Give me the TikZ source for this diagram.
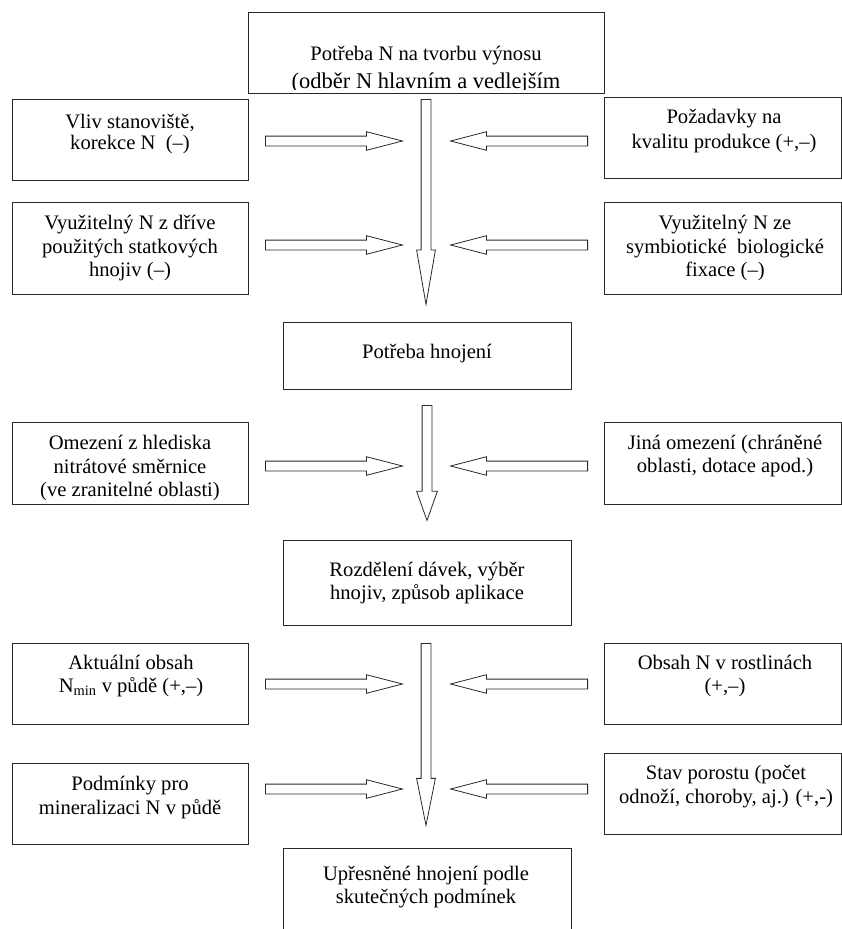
\documentclass[tikz,border=0pt]{standalone}
\usepackage{fontspec}
\setmainfont{Liberation Serif}
\usetikzlibrary{shapes.arrows}
\definecolor{fnLine}{RGB}{40,40,40}

\begin{document}
\begin{tikzpicture}[
  x=1pt, y=-1pt,
  font=\fontsize{20.6}{23.5}\selectfont,
  box/.style={draw=fnLine, line width=1pt, minimum width=236pt, minimum height=81pt, inner sep=0pt},
  mid/.style={box, minimum width=288pt},
  txt/.style={align=center, inner sep=0pt},
  blk/.style={single arrow, draw=fnLine, line width=0.8pt, inner sep=4.5pt, single arrow head extend=4.4pt, single arrow tip angle=29, minimum height=137pt, anchor=tail},
  dwn/.style={blk, shape border rotate=270, single arrow head extend=4.5pt}
]
\useasboundingbox (0,0) rectangle (842,929);

% boxes
\node[box, minimum width=356pt] (top) at (426,52.5) {};
\node[box] (l1) at (130,139.5) {};
\node[box, minimum width=237pt] (r1) at (722.5,137.5) {};
\node[box, minimum height=92pt] (l2) at (130,248) {};
\node[box, minimum width=237pt, minimum height=92pt] (r2) at (722.5,248) {};
\node[mid, minimum height=67pt] (m1) at (427,355.5) {};
\node[box, minimum height=82pt] (l3) at (130,463) {};
\node[box, minimum width=237pt, minimum height=82pt] (r3) at (722.5,463) {};
\node[mid, minimum height=85pt] (m2) at (427,582.5) {};
\node[box] (l4) at (130,683.5) {};
\node[box, minimum width=237pt] (r4) at (722.5,683.5) {};
\node[box] (l5) at (130,803.5) {};
\node[box, minimum width=237pt] (r5) at (722.5,793.5) {};
\node[mid, minimum height=112pt] (bot) at (427,904) {};

% texts
\begin{scope}
  \clip (top.north west) rectangle ([yshift=4pt]top.south east);
  \node[txt] (topt) at (426,70) {Potřeba N na tvorbu výnosu\\[4.5pt]{\fontsize{22.5}{27}\selectfont(odběr N hlavním a vedlejším}};
\end{scope}
\node[txt] (l1t) at (130,134) {Vliv stanoviště,\\[-3pt]korekce N\ \ (–)};
\node[txt] (r1t) at (724,131) {Požadavky na\\[2pt]kvalitu produkce (+,–)};
\node[txt] (l2t) at (130,248.5) {Využitelný N z dříve\\použitých statkových\\hnojiv (–)};
\node[txt] (r2t) at (725,248.5) {Využitelný N ze\\symbiotické\ \ biologické\\fixace (–)};
\node[txt] (m1t) at (427,354) {Potřeba hnojení};
\node[txt] (l3t) at (130,468.5) {Omezení z hlediska\\nitrátové směrnice\\(ve zranitelné oblasti)};
\node[txt] (r3t) at (725,456) {Jiná omezení (chráněné\\oblasti, dotace apod.)};
\node[txt] (m2t) at (427,583) {Rozdělení dávek, výběr\\hnojiv, způsob aplikace};
\node[txt] (l4t) at (131,676) {Aktuální obsah\\N\textsubscript{min} v půdě (+,–)};
\node[txt] (r4t) at (725,676) {Obsah N v rostlinách\\(+,–)};
\node[txt] (l5t) at (130,797.5) {Podmínky pro\\mineralizaci N v půdě};
\node[txt] (r5t) at (726,786.5) {Stav porostu (počet\\odnoží, choroby, aj.) (+,-)};
\node[txt] (bt) at (426,887) {Upřesněné hnojení podle\\skutečných podmínek};

% block arrows
\node[dwn, minimum height=205pt, single arrow tip angle=19.6] (v1) at (426,99) {};
\node[dwn, minimum height=115pt, single arrow head extend=5.5pt, single arrow tip angle=39.3] (v2) at (427,405) {};
\node[dwn, minimum height=182pt, single arrow tip angle=22.6] (v3) at (426,643) {};
\foreach \y/\n in {141/1, 245/2, 466/3, 684/4, 789/5} {
  \node[blk] (hl\n) at (265,\y) {};
  \node[blk, shape border rotate=180] (hr\n) at (588,\y) {};
}
\end{tikzpicture}
\end{document}
